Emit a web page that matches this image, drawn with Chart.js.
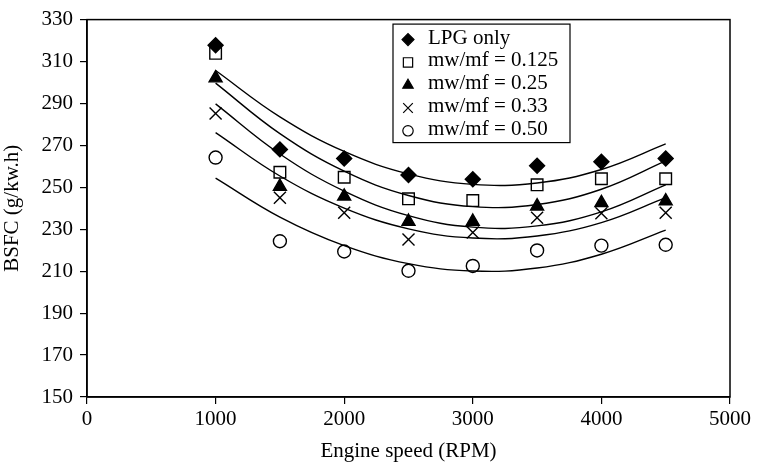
<!DOCTYPE html>
<html>
<head>
<meta charset="utf-8">
<script src="https://cdn.jsdelivr.net/npm/chart.js@4"></script>
<style>
  html, body { margin: 0; padding: 0; background: #fff; }
  #wrap { width: 757px; height: 467px; }
</style>
</head>
<body>
<div id="wrap"><canvas id="bsfc-chart" width="757" height="467"></canvas></div>
<script>
// engine speeds (RPM) and measured BSFC (g/kw.h)
var rpm = [1000, 1500, 2000, 2500, 3000, 3500, 4000, 4500]
var seriesLabels = ['LPG only', 'mw/mf = 0.125', 'mw/mf = 0.25', 'mw/mf = 0.33', 'mw/mf = 0.50']

var lpgOnly = [317.8, 268.1, 263.7, 255.9, 253.9, 260.3, 262.2, 263.7]
var ratio0125 = [313.9, 257.2, 254.8, 244.5, 243.7, 251.2, 254.1, 254.1]
var ratio025 = [302.1, 250.4, 245.7, 233.7, 233.7, 241.0, 242.6, 243.4]
var ratio033 = [285.2, 245.0, 237.9, 225.1, 228.5, 235.5, 237.6, 237.9]
var ratio050 = [264.2, 224.3, 219.4, 210.2, 212.5, 219.9, 222.2, 222.6]

// trend curves, same RPM steps
var trendLpg = [305.7, 283.6, 267.1, 256.4, 251.4, 252.1, 258.5, 270.7]
var trend0125 = [299.7, 275.6, 257.7, 246.1, 240.8, 241.8, 249.1, 262.6]
var trend025 = [289.8, 265.9, 248.2, 236.5, 231.0, 231.6, 238.3, 251.2]
var trend033 = [276.1, 255.4, 240.1, 230.2, 225.8, 226.8, 233.2, 245.1]
var trend050 = [254.4, 235.8, 222.2, 213.6, 210.1, 211.5, 218.1, 229.6]

var xTicks = [0, 1000, 2000, 3000, 4000, 5000]
var yTicks = [150, 170, 190, 210, 230, 250, 270, 290, 310, 330]

var font = '"Liberation Serif", "Times New Roman", serif'
Chart.defaults.font.family = font
Chart.defaults.font.size = 21
Chart.defaults.color = '#000'

function pts(ys) {
    return rpm.map((x, i) => ({ x: x, y: ys[i] }))
}

var markerData = [lpgOnly, ratio0125, ratio025, ratio033, ratio050]
var trendData = [trendLpg, trend0125, trend025, trend033, trend050]
var styles = ['rectRot', 'rect', 'triangle', 'crossRot', 'circle']
var radii = [7.5, 8.2, 7.5, 8.5, 6.5]
var fills = ['#000', 'rgba(0,0,0,0)', '#000', 'rgba(0,0,0,0)', 'rgba(0,0,0,0)']

var datasets = []
for (var i = 0; i < 5; i++) {
    datasets.push({
        label: seriesLabels[i],
        data: pts(markerData[i]),
        pointStyle: styles[i],
        pointRadius: radii[i],
        pointBackgroundColor: fills[i],
        pointBorderColor: '#000',
        pointBorderWidth: 1.4,
        showLine: false
    })
}
for (var j = 0; j < 5; j++) {
    datasets.push({
        label: 'trend ' + seriesLabels[j],
        data: pts(trendData[j]),
        showLine: true,
        borderColor: '#000',
        borderWidth: 1.4,
        pointRadius: 0,
        tension: 0.4,
        fill: false
    })
}

// frame around plot + boxed legend inside it
var framePlugin = {
    id: 'frame',
    afterDraw: function(chart) {
        var ctx = chart.ctx
        var a = chart.chartArea
        ctx.save()
        ctx.strokeStyle = '#000'
        ctx.lineWidth = 1.5
        ctx.strokeRect(a.left, a.top, a.right - a.left, a.bottom - a.top)

        var bx = a.left + 306, by = a.top + 4.5, bw = 177, bh = 118.5
        ctx.fillStyle = '#fff'
        ctx.fillRect(bx, by, bw, bh)
        ctx.lineWidth = 1.2
        ctx.strokeRect(bx, by, bw, bh)
        ctx.font = '21px ' + font
        ctx.textBaseline = 'middle'
        ctx.textAlign = 'left'
        for (var k = 0; k < 5; k++) {
            var ds = chart.data.datasets[k]
            var cy = by + 14 + k * 22.8
            ctx.fillStyle = ds.pointBackgroundColor
            ctx.strokeStyle = '#000'
            ctx.lineWidth = 1.2
            Chart.helpers.drawPoint(ctx, {
                pointStyle: ds.pointStyle,
                radius: ds.pointRadius * 0.8,
                rotation: 0,
                borderWidth: 1.2
            }, bx + 15, cy + 1.5)
            ctx.fillStyle = '#000'
            ctx.fillText(ds.label, bx + 35, cy)
        }
        ctx.restore()
    }
}

var ctx = document.getElementById('bsfc-chart').getContext('2d')
var chart = new Chart(ctx, {
    type: 'scatter',
    data: { datasets: datasets },
    options: {
        responsive: false,
        animation: false,
        layout: { padding: { top: 14, right: 27, left: 0, bottom: 0 } },
        plugins: {
            legend: { display: false },
            tooltip: { enabled: false }
        },
        scales: {
            x: {
                type: 'linear',
                min: 0,
                max: 5000,
                afterBuildTicks: s => { s.ticks = xTicks.map(v => ({ value: v })) },
                afterFit: s => { s.height = 70 },
                grid: { drawOnChartArea: false, tickLength: 7, color: '#000', lineWidth: 1.2 },
                border: { color: '#000', width: 1.5 },
                ticks: { padding: 3, maxRotation: 0, callback: v => String(v) },
                title: { display: true, text: 'Engine speed (RPM)', padding: { top: 0, bottom: 3 } }
            },
            y: {
                type: 'linear',
                min: 150,
                max: 330,
                afterBuildTicks: s => { s.ticks = yTicks.map(v => ({ value: v })) },
                afterFit: s => { s.width = 87 },
                grid: { drawOnChartArea: false, tickLength: 7, color: '#000', lineWidth: 1.2 },
                border: { color: '#000', width: 1.5 },
                ticks: { padding: 7, callback: v => String(v) },
                title: { display: true, text: 'BSFC (g/kw.h)', padding: { top: 0, bottom: 0 } }
            }
        }
    },
    plugins: [framePlugin]
})
</script>
</body>
</html>
